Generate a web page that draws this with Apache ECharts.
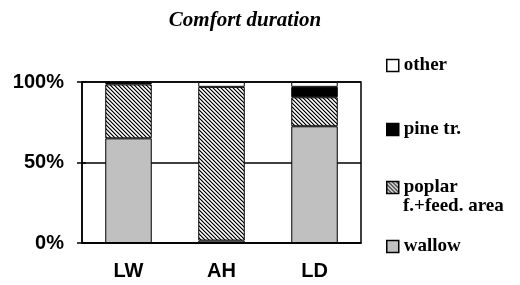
<!DOCTYPE html>
<html lang="en">
<head>
    <meta charset="UTF-8">
    <script src="https://cdn.jsdelivr.net/npm/echarts@6/dist/echarts.min.js"></script>
    <title>Comfort duration</title>
    <style>
        html, body { margin: 0; padding: 0; background: #fff; }
        #chart { width: 520px; height: 285px; }
    </style>
</head>
<body>
<div id="chart"></div>

<script>
    // data (percent of time)
    const categories = ['LW', 'AH', 'LD'];
    const wallow = [65, 1.5, 72.5];
    const poplar = [33.5, 95.5, 18];
    const pine = [1, null, 6.5];
    const other = [0.5, 3, 3];
    const yTicks = [0, 50, 100];

    // fine diagonal texture for the poplar series
    function hatch() {
        const c = document.createElement('canvas');
        c.width = 4; c.height = 4;
        const ctx = c.getContext('2d');
        const shades = ['#000000', '#909090', '#ffffff', '#c8c8c8'];
        for (let x = 0; x < 4; x++) {
            for (let y = 0; y < 4; y++) {
                ctx.fillStyle = shades[(x + 3 - y) % 4];
                ctx.fillRect(x, y, 1, 1);
            }
        }
        return { image: c, repeat: 'repeat' };
    }

    const chart = echarts.init(document.getElementById('chart'));

    const bold = { fontFamily: 'Liberation Sans', fontWeight: 'bold', fontSize: 20, color: '#000' };
    const legendText = { fontFamily: 'Liberation Serif', fontWeight: 'bold', fontSize: 19, color: '#000' };

    function legendAt(name, top, extra) {
        return Object.assign({
            data: [{ name: name, icon: 'rect' }],
            left: 386,
            top: top,
            padding: 0,
            orient: 'vertical',
            itemWidth: 12,
            itemHeight: 12,
            itemGap: 0,
            itemStyle: { borderColor: '#000', borderWidth: 1.5 },
            textStyle: legendText,
            selectedMode: false
        }, extra || {});
    }

    function bar(name, data, color) {
        return {
            name: name,
            type: 'bar',
            stack: 'all',
            data: data,
            barWidth: '50%',
            itemStyle: { color: color, borderColor: '#000', borderWidth: 1 },
            emphasis: { disabled: true }
        };
    }

    const option = {
        animation: false,
        title: {
            text: 'Comfort duration',
            left: 245,
            textAlign: 'center',
            top: 10,
            padding: 0,
            textStyle: { fontFamily: 'Liberation Serif', fontStyle: 'italic', fontWeight: 'bold', fontSize: 21, color: '#000' }
        },
        legend: [
            legendAt('other', 56),
            legendAt('pine tr.', 120),
            // second line of this name is added below as a text element
            legendAt('poplar f.+feed. area', 178, { formatter: () => 'poplar' }),
            legendAt('wallow', 237)
        ],
        graphic: [{
            type: 'text',
            left: 403,
            top: 197,
            style: {
                text: 'f.+feed. area',
                fill: '#000',
                fontFamily: 'Liberation Serif',
                fontWeight: 'bold',
                fontSize: 19
            }
        }],
        grid: {
            left: 82, right: 159, top: 82, bottom: 42,
            show: true, borderColor: '#000', borderWidth: 1.5
        },
        xAxis: {
            type: 'category',
            data: categories,
            axisLine: { lineStyle: { color: '#000', width: 1.5 } },
            axisTick: { length: 4, lineStyle: { color: '#000', width: 1.5 } },
            axisLabel: Object.assign({ margin: 18 }, bold)
        },
        yAxis: [{
            type: 'value',
            min: yTicks[0],
            max: yTicks[yTicks.length - 1],
            interval: 50,
            axisLine: { show: true, lineStyle: { color: '#000', width: 1.5 } },
            axisTick: { show: true, length: 5, lineStyle: { color: '#000', width: 1.5 } },
            axisLabel: Object.assign({ margin: 18, formatter: '{value}%' }, bold),
            splitLine: { show: true, lineStyle: { color: '#000', width: 1.5 } }
        }, {
            type: 'value',
            position: 'left',
            min: yTicks[0],
            max: yTicks[yTicks.length - 1],
            interval: 50,
            axisLine: { show: false },
            axisTick: { show: true, inside: true, length: 4, lineStyle: { color: '#000', width: 1.5 } },
            axisLabel: { show: false },
            splitLine: { show: false }
        }],
        series: [
            bar('wallow', wallow, '#c0c0c0'),
            bar('poplar f.+feed. area', poplar, hatch()),
            bar('pine tr.', pine, '#000000'),
            bar('other', other, '#ffffff')
        ]
    };

    chart.setOption(option);
</script>
</body>
</html>
